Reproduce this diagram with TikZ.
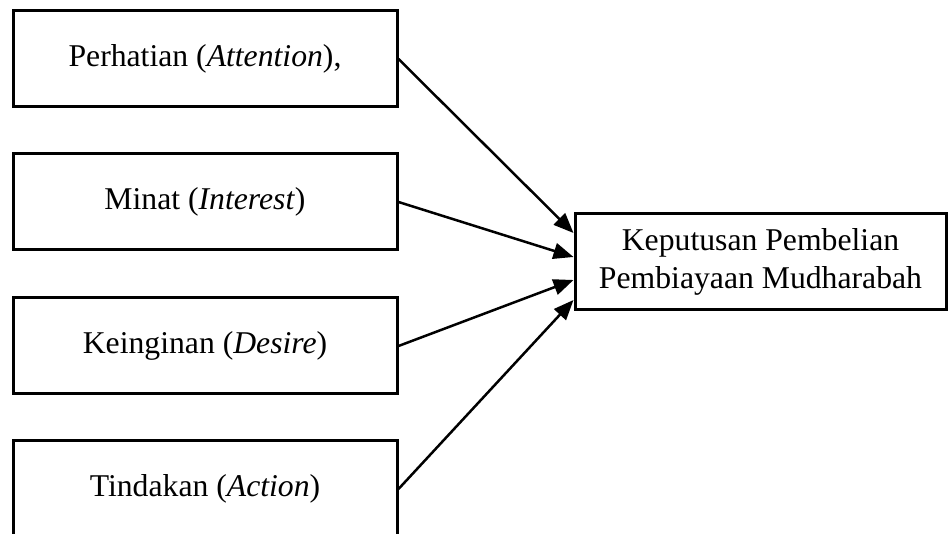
\documentclass[tikz,border=0pt]{standalone}
\usepackage{fontspec}
\setmainfont{Liberation Serif}
\usetikzlibrary{arrows.meta}
\begin{document}
\begin{tikzpicture}[x=1pt,y=-1pt,
  box/.style={draw,line width=3pt,rectangle,minimum height=96pt,inner sep=0pt,align=center,font=\fontsize{31.7}{38}\selectfont},
  lbox/.style={box,minimum width=384pt},
  rbox/.style={box,minimum width=371pt},
  arr/.style={line width=2.5pt,-{Triangle[length=20pt,width=16pt]}}]
\clip (0,0) rectangle (948,534);
\useasboundingbox (0,0) rectangle (948,534);
\node[lbox] (a) at (205,59) {Perhatian (\textit{Attention}),};
\node[lbox] (b) at (205,202) {Minat (\textit{Interest})};
\node[lbox] (c) at (205,346) {Keinginan (\textit{Desire})};
\node[lbox] (d) at (205,489) {Tindakan (\textit{Action})};
\node[rbox] (r) at (760.5,262) {Keputusan Pembelian\\Pembiayaan Mudharabah};
\draw[arr] (a.east) -- ([yshift=29pt]r.west);
\draw[arr] (b.east) -- ([yshift=5pt]r.west);
\draw[arr] (c.east) -- ([yshift=-18pt]r.west);
\draw[arr] (d.east) -- ([yshift=-38pt]r.west);
\end{tikzpicture}
\end{document}
